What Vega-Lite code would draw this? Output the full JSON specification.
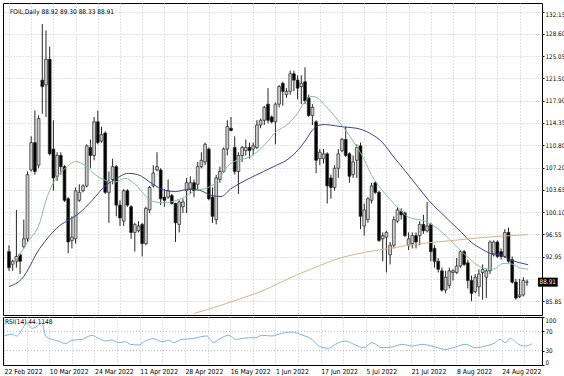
{
 "$schema": "https://vega.github.io/schema/vega-lite/v6.json",
 "background": "#ffffff",
 "padding": {"left": 1, "top": 2, "right": 0, "bottom": 0},
 "spacing": 2,
 "bounds": "flush",
 "config": {
  "view": {"stroke": "#000000", "strokeWidth": 1},
  "axis": {"labelFont": "DejaVu Sans Condensed, Liberation Sans Narrow, Liberation Sans, sans-serif", "labelFontSize": 6.3, "labelColor": "#000000", "gridColor": "#c4c4c4", "gridDash": [1, 2], "gridWidth": 1, "tickColor": "#000000", "domain": false, "labelOverlap": false, "labelFlush": false, "labelBound": false}
 },
 "datasets": {
  "k": [
   {"i":0,"o":93.79,"h":94.81,"l":90.72,"c":91.23},{"i":1,"o":91.74,"h":92.51,"l":90.72,"c":92.25},{"i":2,"o":92.25,"h":100.45,"l":91.23,"c":93.02},{"i":3,"o":93.28,"h":93.53,"l":90.2,"c":92.25},{"i":4,"o":94.56,"h":98.91,"l":94.3,"c":95.84},{"i":5,"o":95.84,"h":106.6,"l":95.33,"c":106.09},{"i":6,"o":106.85,"h":112.23,"l":106.6,"c":111.21},{"i":7,"o":111.21,"h":116.33,"l":106.09,"c":106.6},{"i":8,"o":107.62,"h":115.56,"l":107.11,"c":115.05},{"i":9,"o":121.2,"h":130.16,"l":115.82,"c":120.17},
   {"i":10,"o":120.43,"h":129.14,"l":115.31,"c":124.53},{"i":11,"o":124.53,"h":126.58,"l":109.16,"c":109.42},{"i":12,"o":110.18,"h":114.79,"l":103.52,"c":105.57},{"i":13,"o":105.83,"h":109.67,"l":105.06,"c":109.16},{"i":14,"o":109.16,"h":109.67,"l":106.09,"c":107.37},{"i":15,"o":107.37,"h":107.62,"l":101.73,"c":101.99},{"i":16,"o":102.24,"h":102.5,"l":93.53,"c":95.33},{"i":17,"o":95.58,"h":99.43,"l":94.3,"c":96.1},{"i":18,"o":95.84,"h":104.04,"l":95.07,"c":103.52},{"i":19,"o":101.99,"h":104.55,"l":101.73,"c":103.27},
   {"i":20,"o":103.52,"h":104.55,"l":103.27,"c":104.29},{"i":21,"o":104.29,"h":110.95,"l":104.04,"c":110.7},{"i":22,"o":110.44,"h":111.72,"l":107.11,"c":109.16},{"i":23,"o":109.16,"h":115.31,"l":108.39,"c":114.54},{"i":24,"o":114.54,"h":116.33,"l":110.95,"c":111.21},{"i":25,"o":111.46,"h":113.77,"l":111.21,"c":112.49},{"i":26,"o":112.75,"h":113.0,"l":103.01,"c":103.27},{"i":27,"o":103.27,"h":106.6,"l":98.4,"c":105.06},{"i":28,"o":105.32,"h":108.65,"l":104.55,"c":107.37},{"i":29,"o":107.37,"h":107.62,"l":99.43,"c":101.22},
   {"i":30,"o":101.22,"h":101.99,"l":97.89,"c":99.17},{"i":31,"o":98.66,"h":103.78,"l":97.89,"c":103.52},{"i":32,"o":103.52,"h":103.78,"l":100.96,"c":101.22},{"i":33,"o":100.96,"h":101.22,"l":95.84,"c":96.86},{"i":34,"o":96.86,"h":98.4,"l":93.79,"c":98.14},{"i":35,"o":97.12,"h":98.66,"l":96.86,"c":97.89},{"i":36,"o":98.14,"h":98.4,"l":93.02,"c":95.07},{"i":37,"o":95.07,"h":100.96,"l":94.81,"c":100.71},{"i":38,"o":100.45,"h":104.29,"l":99.94,"c":104.04},{"i":39,"o":104.29,"h":107.62,"l":104.04,"c":106.34},
   {"i":40,"o":106.85,"h":109.67,"l":106.6,"c":107.37},{"i":41,"o":106.85,"h":107.11,"l":101.22,"c":102.24},{"i":42,"o":102.5,"h":103.78,"l":100.96,"c":101.99},{"i":43,"o":102.5,"h":105.32,"l":102.24,"c":103.52},{"i":44,"o":102.76,"h":103.01,"l":101.3,"c":101.48},{"i":45,"o":101.48,"h":101.6,"l":95.33,"c":98.4},{"i":46,"o":98.14,"h":101.99,"l":96.86,"c":101.73},{"i":47,"o":100.96,"h":102.24,"l":99.94,"c":101.73},{"i":48,"o":103.52,"h":105.57,"l":99.94,"c":104.8},{"i":49,"o":103.78,"h":105.83,"l":103.01,"c":104.8},
   {"i":50,"o":104.8,"h":105.32,"l":102.5,"c":103.52},{"i":51,"o":104.55,"h":108.13,"l":103.52,"c":107.37},{"i":52,"o":107.37,"h":109.67,"l":107.11,"c":108.39},{"i":53,"o":108.13,"h":111.21,"l":107.62,"c":110.95},{"i":54,"o":110.18,"h":110.44,"l":101.99,"c":102.24},{"i":55,"o":102.5,"h":104.04,"l":98.4,"c":99.43},{"i":56,"o":98.91,"h":106.09,"l":98.14,"c":105.57},{"i":57,"o":105.32,"h":107.37,"l":104.8,"c":106.6},{"i":58,"o":106.6,"h":110.44,"l":106.34,"c":110.18},{"i":59,"o":110.18,"h":114.79,"l":109.16,"c":113.77},
   {"i":60,"o":113.51,"h":115.31,"l":113.0,"c":113.16},{"i":61,"o":110.44,"h":112.23,"l":106.09,"c":106.6},{"i":62,"o":106.6,"h":109.67,"l":103.01,"c":109.16},{"i":63,"o":109.16,"h":110.7,"l":108.13,"c":110.44},{"i":64,"o":109.93,"h":111.72,"l":109.16,"c":110.44},{"i":65,"o":110.44,"h":111.21,"l":108.65,"c":109.93},{"i":66,"o":110.18,"h":111.21,"l":109.16,"c":110.7},{"i":67,"o":110.44,"h":114.79,"l":110.18,"c":114.03},{"i":68,"o":114.03,"h":115.05,"l":113.51,"c":114.79},{"i":69,"o":114.79,"h":117.1,"l":114.03,"c":116.84},
   {"i":70,"o":117.36,"h":119.92,"l":114.28,"c":114.79},{"i":71,"o":115.31,"h":115.56,"l":114.28,"c":114.54},{"i":72,"o":114.54,"h":117.61,"l":110.95,"c":117.36},{"i":73,"o":117.36,"h":120.43,"l":116.84,"c":120.17},{"i":74,"o":120.69,"h":120.94,"l":117.1,"c":119.41},{"i":75,"o":118.89,"h":119.92,"l":118.38,"c":119.41},{"i":76,"o":119.41,"h":122.74,"l":118.89,"c":122.22},{"i":77,"o":122.22,"h":122.74,"l":119.41,"c":121.2},{"i":78,"o":121.2,"h":121.97,"l":118.13,"c":119.92},{"i":79,"o":120.17,"h":121.97,"l":117.36,"c":120.69},
   {"i":80,"o":120.94,"h":123.25,"l":117.36,"c":117.87},{"i":81,"o":118.38,"h":118.89,"l":115.31,"c":115.56},{"i":82,"o":115.56,"h":117.36,"l":114.03,"c":116.84},{"i":83,"o":114.54,"h":114.79,"l":106.34,"c":108.39},{"i":84,"o":108.65,"h":110.18,"l":107.62,"c":109.67},{"i":85,"o":108.65,"h":110.18,"l":107.87,"c":109.42},{"i":86,"o":109.42,"h":109.67,"l":101.48,"c":104.29},{"i":87,"o":105.57,"h":106.09,"l":102.24,"c":104.04},{"i":88,"o":104.04,"h":107.62,"l":103.52,"c":107.11},{"i":89,"o":107.11,"h":110.18,"l":105.57,"c":109.42},
   {"i":90,"o":109.93,"h":111.98,"l":109.67,"c":111.72},{"i":91,"o":111.72,"h":113.77,"l":108.9,"c":109.16},{"i":92,"o":109.42,"h":109.67,"l":104.8,"c":105.83},{"i":93,"o":106.09,"h":109.16,"l":105.57,"c":108.13},{"i":94,"o":108.39,"h":110.95,"l":105.57,"c":110.44},{"i":95,"o":110.7,"h":111.21,"l":97.38,"c":99.43},{"i":96,"o":97.89,"h":101.48,"l":96.35,"c":100.45},{"i":97,"o":98.91,"h":102.5,"l":98.4,"c":102.24},{"i":98,"o":101.99,"h":104.8,"l":101.48,"c":104.29},{"i":99,"o":104.8,"h":105.06,"l":103.01,"c":103.27},
   {"i":100,"o":103.27,"h":103.52,"l":95.33,"c":95.58},{"i":101,"o":95.84,"h":96.86,"l":92.25,"c":96.35},{"i":102,"o":96.1,"h":97.12,"l":90.46,"c":96.86},{"i":103,"o":93.28,"h":95.33,"l":91.74,"c":94.81},{"i":104,"o":94.81,"h":99.43,"l":94.3,"c":98.91},{"i":105,"o":98.66,"h":100.96,"l":98.4,"c":100.45},{"i":106,"o":100.19,"h":100.71,"l":98.91,"c":99.68},{"i":107,"o":99.94,"h":100.19,"l":96.1,"c":96.35},{"i":108,"o":94.81,"h":96.86,"l":94.05,"c":95.84},{"i":109,"o":95.07,"h":96.86,"l":94.3,"c":96.35},
   {"i":110,"o":96.35,"h":96.86,"l":94.3,"c":95.33},{"i":111,"o":96.35,"h":98.66,"l":94.81,"c":98.14},{"i":112,"o":98.14,"h":99.68,"l":96.61,"c":97.12},{"i":113,"o":97.12,"h":101.73,"l":96.86,"c":97.89},{"i":114,"o":98.14,"h":98.4,"l":92.25,"c":93.79},{"i":115,"o":94.3,"h":94.81,"l":91.23,"c":92.25},{"i":116,"o":92.25,"h":92.77,"l":90.46,"c":90.97},{"i":117,"o":90.72,"h":91.23,"l":87.39,"c":87.64},{"i":118,"o":87.64,"h":90.72,"l":87.13,"c":89.69},{"i":119,"o":88.41,"h":91.23,"l":87.9,"c":90.72},
   {"i":120,"o":90.46,"h":90.97,"l":89.18,"c":90.72},{"i":121,"o":90.46,"h":92.77,"l":90.2,"c":91.49},{"i":122,"o":91.49,"h":94.05,"l":91.23,"c":93.79},{"i":123,"o":93.79,"h":94.05,"l":91.49,"c":91.74},{"i":124,"o":92.0,"h":92.51,"l":87.9,"c":89.18},{"i":125,"o":89.18,"h":89.95,"l":85.85,"c":87.13},{"i":126,"o":87.39,"h":90.2,"l":87.13,"c":89.69},{"i":127,"o":88.16,"h":90.97,"l":86.62,"c":90.2},{"i":128,"o":90.46,"h":91.74,"l":86.11,"c":90.97},{"i":129,"o":89.69,"h":90.97,"l":86.36,"c":90.72},
   {"i":130,"o":90.72,"h":95.58,"l":90.2,"c":95.33},{"i":131,"o":93.28,"h":95.58,"l":93.02,"c":95.33},{"i":132,"o":95.33,"h":95.58,"l":92.77,"c":93.02},{"i":133,"o":93.79,"h":94.3,"l":92.51,"c":93.02},{"i":134,"o":93.02,"h":97.38,"l":92.77,"c":96.86},{"i":135,"o":96.86,"h":97.63,"l":92.0,"c":92.25},{"i":136,"o":92.51,"h":93.02,"l":88.67,"c":88.92},{"i":137,"o":88.92,"h":89.44,"l":86.11,"c":86.36},{"i":138,"o":86.62,"h":89.44,"l":86.36,"c":86.87},{"i":139,"o":86.87,"h":89.69,"l":86.62,"c":89.18},
   {"i":140,"o":88.92,"h":89.3,"l":88.33,"c":88.91}
  ],
  "m": [
   {"s":"b","i":0,"v":88.2},{"s":"b","i":3.4,"v":89.4},{"s":"b","i":8.3,"v":94.3},{"s":"b","i":11,"v":96.35},{"s":"b","i":13.6,"v":97.9},{"s":"b","i":16.3,"v":98.9},{"s":"b","i":18.9,"v":99.9},{"s":"b","i":22.5,"v":102.0},{"s":"b","i":26,"v":104.3},{"s":"b","i":28.6,"v":105.3},{"s":"b","i":32.2,"v":106.3},{"s":"b","i":34.8,"v":106.1},{"s":"b","i":38.8,"v":104.6},{"s":"b","i":42,"v":103.6},{"s":"b","i":45,"v":103.4},{"s":"b","i":49,"v":103.8},{"s":"b","i":52,"v":103.5},{"s":"b","i":54.6,"v":102.8},{"s":"b","i":57.3,"v":102.6},{"s":"b","i":59.9,"v":103.8},{"s":"b","i":64.3,"v":105.3},{"s":"b","i":68.8,"v":106.6},{"s":"b","i":72.3,"v":107.6},{"s":"b","i":75,"v":108.4},{"s":"b","i":77.6,"v":109.7},{"s":"b","i":80.3,"v":111.7},{"s":"b","i":82,"v":113.2},{"s":"b","i":83.8,"v":114.0},{"s":"b","i":85.5,"v":114.1},{"s":"b","i":88.2,"v":113.9},{"s":"b","i":90.8,"v":113.7},{"s":"b","i":94,"v":113.5},{"s":"b","i":97.4,"v":112.75},{"s":"b","i":101,"v":111.2},{"s":"b","i":103.6,"v":109.2},{"s":"b","i":107.2,"v":106.6},{"s":"b","i":110.7,"v":104.0},{"s":"b","i":113.4,"v":102.0},{"s":"b","i":116,"v":100.45},{"s":"b","i":118.7,"v":98.9},{"s":"b","i":122.2,"v":96.9},{"s":"b","i":124.9,"v":95.3},{"s":"b","i":127.5,"v":94.3},{"s":"b","i":130.2,"v":93.5},{"s":"b","i":132.8,"v":93.3},{"s":"b","i":135.4,"v":92.5},{"s":"b","i":138.1,"v":92.0},{"s":"b","i":140.3,"v":91.7},
   {"s":"g","i":1,"v":91.5},{"s":"g","i":5,"v":95.3},{"s":"g","i":8.3,"v":98.4},{"s":"g","i":10,"v":102.0},{"s":"g","i":12.7,"v":105.5},{"s":"g","i":15.4,"v":107.2},{"s":"g","i":18,"v":108.2},{"s":"g","i":20.7,"v":107.5},{"s":"g","i":23.3,"v":106.1},{"s":"g","i":26,"v":105.2},{"s":"g","i":28.6,"v":104.9},{"s":"g","i":31.3,"v":105.5},{"s":"g","i":34,"v":104.6},{"s":"g","i":36.6,"v":102.9},{"s":"g","i":38.4,"v":101.9},{"s":"g","i":41.9,"v":101.6},{"s":"g","i":45.4,"v":102.0},{"s":"g","i":47.5,"v":102.5},{"s":"g","i":50.2,"v":103.5},{"s":"g","i":53.7,"v":104.0},{"s":"g","i":56.4,"v":105.1},{"s":"g","i":59,"v":107.4},{"s":"g","i":61.7,"v":108.4},{"s":"g","i":64.3,"v":108.75},{"s":"g","i":67,"v":109.7},{"s":"g","i":69.6,"v":111.2},{"s":"g","i":72.3,"v":113.0},{"s":"g","i":75,"v":114.0},{"s":"g","i":77.6,"v":115.6},{"s":"g","i":79.8,"v":117.6},{"s":"g","i":81.6,"v":118.6},{"s":"g","i":82.9,"v":118.5},{"s":"g","i":85.5,"v":117.1},{"s":"g","i":88.2,"v":115.3},{"s":"g","i":90.8,"v":113.3},{"s":"g","i":93.5,"v":111.0},{"s":"g","i":96,"v":108.5},{"s":"g","i":98,"v":106.0},{"s":"g","i":101,"v":103.5},{"s":"g","i":104.8,"v":101.0},{"s":"g","i":108,"v":99.3},{"s":"g","i":112.7,"v":98.6},{"s":"g","i":116,"v":97.4},{"s":"g","i":119,"v":95.8},{"s":"g","i":122,"v":94.0},{"s":"g","i":125,"v":92.4},{"s":"g","i":128,"v":91.2},{"s":"g","i":131,"v":91.0},{"s":"g","i":133.5,"v":91.9},{"s":"g","i":136,"v":91.8},{"s":"g","i":138,"v":91.2},{"s":"g","i":140.3,"v":91.0},
   {"s":"t","i":50,"v":83.9},{"s":"t","i":53.3,"v":84.47},{"s":"t","i":60.5,"v":85.85},{"s":"t","i":69.2,"v":87.7},{"s":"t","i":76.4,"v":89.7},{"s":"t","i":82.5,"v":91.2},{"s":"t","i":89.7,"v":92.8},{"s":"t","i":93.9,"v":93.4},{"s":"t","i":102.7,"v":94.3},{"s":"t","i":111.7,"v":95.1},{"s":"t","i":120.4,"v":95.6},{"s":"t","i":129.2,"v":96.1},{"s":"t","i":140.3,"v":96.5}
  ],
  "r": [
   {"i":0,"r":60.5},{"i":2.1,"r":64},{"i":3.4,"r":60.5},{"i":4.8,"r":74.5},{"i":6.1,"r":88.2},{"i":7.4,"r":76.3},{"i":9.2,"r":83.3},{"i":10.1,"r":88.2},{"i":11,"r":60.5},{"i":12.7,"r":53.5},{"i":14.5,"r":50},{"i":16.3,"r":44.4},{"i":18,"r":51.4},{"i":20.7,"r":53.5},{"i":22,"r":58.3},{"i":23.3,"r":61.8},{"i":25.1,"r":55.5},{"i":26.9,"r":50},{"i":28.6,"r":52.1},{"i":30.4,"r":46.5},{"i":32.2,"r":48.6},{"i":33.5,"r":43},{"i":35.7,"r":41.7},{"i":37.5,"r":50},{"i":39.7,"r":54.9},{"i":41.9,"r":48.6},{"i":43.7,"r":51.4},{"i":45,"r":46.5},{"i":47.2,"r":53.5},{"i":49.9,"r":54.9},{"i":53.8,"r":60.5},{"i":55.6,"r":46.5},{"i":57,"r":53.5},{"i":59.6,"r":61.8},{"i":61.4,"r":53.5},{"i":64.9,"r":56.9},{"i":66.7,"r":56.9},{"i":68.4,"r":61.8},{"i":71.1,"r":60.5},{"i":73.7,"r":66},{"i":76.4,"r":68.7},{"i":79,"r":62.5},{"i":81.7,"r":53.5},{"i":83.5,"r":39.5},{"i":86.1,"r":34.7},{"i":87.9,"r":43},{"i":90.5,"r":50},{"i":93.2,"r":41.7},{"i":95.4,"r":36},{"i":97.6,"r":46.5},{"i":100.3,"r":36},{"i":102.9,"r":37.5},{"i":105.6,"r":43},{"i":108.2,"r":39.5},{"i":110.9,"r":43},{"i":114.4,"r":37.5},{"i":117.1,"r":32.5},{"i":119.7,"r":37.5},{"i":122.4,"r":43},{"i":125,"r":36},{"i":127.7,"r":39.5},{"i":130.3,"r":46.5},{"i":131.6,"r":53.5},{"i":133,"r":46.5},{"i":134.3,"r":55.5},{"i":136.5,"r":43},{"i":138.3,"r":39.5},{"i":140,"r":44.11}
  ]
 },
 "vconcat": [
  {
   "width": 539,
   "height": 312,
   "layer": [
    {
     "data": {"name": "k"},
     "mark": {"type": "rule", "color": "#262626", "strokeWidth": 1},
     "encoding": {
      "x": {"field": "i", "type": "quantitative", "scale": {"domain": [-0.27, 142.7], "nice": false, "zero": false}, "axis": {"values": [0,6,12,18,24,30,36,42,48,54,60,66,72,78,84,90,96,102,108,114,120,126,132,138], "tickCount": 200, "grid": true, "labels": false, "ticks": false, "title": null}},
      "y": {"field": "l", "type": "quantitative", "scale": {"domain": [84.46, 132.73], "nice": false, "zero": false}, "axis": {"orient": "right", "values": [85.85,89.4,92.95,96.55,100.1,103.65,107.2,110.8,114.35,117.9,121.5,125.05,128.6,132.15], "tickCount": 200, "grid": true, "title": null, "tickSize": 2, "labelPadding": 1, "labelOverlap": false, "labelBound": false, "labelExpr": "datum.value == 89.4 ? '' : format(datum.value, '.2f')", "labelBaseline": {"condition": {"test": "datum.value > 132", "value": "top"}, "value": "middle"}}},
      "y2": {"field": "h"}
     }
    },
    {
     "data": {"name": "k"},
     "mark": {"type": "bar", "width": 2.8, "stroke": "#262626", "strokeWidth": 0.7},
     "encoding": {
      "x": {"field": "i", "type": "quantitative", "scale": {"domain": [-0.27, 142.7], "nice": false, "zero": false}, "axis": {"values": [0,6,12,18,24,30,36,42,48,54,60,66,72,78,84,90,96,102,108,114,120,126,132,138], "tickCount": 200, "grid": true, "labels": false, "ticks": false, "title": null}},
      "y": {"field": "o", "type": "quantitative", "scale": {"domain": [84.46, 132.73], "nice": false, "zero": false}, "axis": {"orient": "right", "values": [85.85,89.4,92.95,96.55,100.1,103.65,107.2,110.8,114.35,117.9,121.5,125.05,128.6,132.15], "tickCount": 200, "grid": true, "title": null, "tickSize": 2, "labelPadding": 1, "labelOverlap": false, "labelBound": false, "labelExpr": "datum.value == 89.4 ? '' : format(datum.value, '.2f')", "labelBaseline": {"condition": {"test": "datum.value > 132", "value": "top"}, "value": "middle"}}},
      "y2": {"field": "c"},
      "fill": {"condition": {"test": "datum.c >= datum.o", "value": "#cccccc"}, "value": "#000000"}
     }
    },
    {
     "data": {"name": "m"},
     "mark": {"type": "line", "strokeWidth": 1, "clip": true, "interpolate": "monotone"},
     "encoding": {
      "x": {"field": "i", "type": "quantitative", "scale": {"domain": [-0.27, 142.7], "nice": false, "zero": false}, "axis": {"values": [0,6,12,18,24,30,36,42,48,54,60,66,72,78,84,90,96,102,108,114,120,126,132,138], "tickCount": 200, "grid": true, "labels": false, "ticks": false, "title": null}},
      "y": {"field": "v", "type": "quantitative", "scale": {"domain": [84.46, 132.73], "nice": false, "zero": false}, "axis": {"orient": "right", "values": [85.85,89.4,92.95,96.55,100.1,103.65,107.2,110.8,114.35,117.9,121.5,125.05,128.6,132.15], "tickCount": 200, "grid": true, "title": null, "tickSize": 2, "labelPadding": 1, "labelOverlap": false, "labelBound": false, "labelExpr": "datum.value == 89.4 ? '' : format(datum.value, '.2f')", "labelBaseline": {"condition": {"test": "datum.value > 132", "value": "top"}, "value": "middle"}}},
      "color": {"field": "s", "type": "nominal", "scale": {"domain": ["t", "b", "g"], "range": ["#d9b38c", "#40408f", "#86bd98"]}, "legend": null}
     }
    },
    {
     "data": {"values": [{"t": "FOIL,Daily  88.92 89.30 88.33 88.91"}]},
     "mark": {"type": "text", "align": "left", "baseline": "top", "dx": 2, "dy": 1, "fontSize": 6.5, "font": "DejaVu Sans Condensed, Liberation Sans Narrow, Liberation Sans, sans-serif", "color": "#000000"},
     "encoding": {
      "x": {"datum": -0.27, "type": "quantitative"},
      "y": {"datum": 132.73, "type": "quantitative"},
      "text": {"field": "t"}
     }
    },
    {
     "data": {"values": [{"p": 88.91, "t": "88.91"}]},
     "mark": {"type": "bar", "height": 9, "color": "#000000"},
     "encoding": {
      "x": {"datum": 142.97, "type": "quantitative"},
      "x2": {"datum": 148.3},
      "y": {"field": "p", "type": "quantitative"}
     }
    },
    {
     "data": {"values": [{"p": 88.91, "t": "88.91"}]},
     "mark": {"type": "text", "align": "center", "baseline": "middle", "fontSize": 6.3, "font": "DejaVu Sans Condensed, Liberation Sans Narrow, Liberation Sans, sans-serif", "color": "#ffffff"},
     "encoding": {
      "x": {"datum": 145.6, "type": "quantitative"},
      "y": {"field": "p", "type": "quantitative"},
      "text": {"field": "t"}
     }
    }
   ]
  },
  {
   "width": 539,
   "height": 48,
   "layer": [
    {
     "data": {"values": [{"lv": 30}, {"lv": 70}]},
     "mark": {"type": "rule", "color": "#b8b8b8", "strokeDash": [1, 2], "strokeWidth": 1},
     "encoding": {
      "y": {"field": "lv", "type": "quantitative", "scale": {"domain": [0, 100], "nice": false, "zero": false}, "axis": {"orient": "right", "values": [0, 30, 70, 100], "tickCount": 200, "format": "d", "grid": false, "title": null, "tickSize": 2, "labelPadding": 1, "labelOverlap": false, "labelBound": false, "labelBaseline": {"condition": [{"test": "datum.value == 100", "value": "top"}, {"test": "datum.value == 0", "value": "bottom"}], "value": "middle"}}}
     }
    },
    {
     "data": {"name": "r"},
     "mark": {"type": "line", "color": "#7fb2dd", "strokeWidth": 1, "interpolate": "monotone"},
     "encoding": {
      "x": {"field": "i", "type": "quantitative", "scale": {"domain": [-0.27, 142.7], "nice": false, "zero": false}, "axis": {"values": [0,6,12,18,24,30,36,42,48,54,60,66,72,78,84,90,96,102,108,114,120,126,132,138], "tickCount": 200, "grid": true, "ticks": false, "title": null, "labelAlign": "left", "labelPadding": 3, "labelFontSize": 6.8, "labelOverlap": false, "labelFlush": false, "labelExpr": "datum.value % 12 == 0 ? ['22 Feb 2022','10 Mar 2022','24 Mar 2022','11 Apr 2022','28 Apr 2022','16 May 2022','1 Jun 2022','17 Jun 2022','5 Jul 2022','21 Jul 2022','8 Aug 2022','24 Aug 2022'][datum.value / 12] : ''"}},
      "y": {"field": "r", "type": "quantitative", "scale": {"domain": [0, 100], "nice": false, "zero": false}, "axis": {"orient": "right", "values": [0, 30, 70, 100], "tickCount": 200, "format": "d", "grid": false, "title": null, "tickSize": 2, "labelPadding": 1, "labelOverlap": false, "labelBound": false, "labelBaseline": {"condition": [{"test": "datum.value == 100", "value": "top"}, {"test": "datum.value == 0", "value": "bottom"}], "value": "middle"}}}
     }
    },
    {
     "data": {"values": [{"t": "RSI(14) 44.1148"}]},
     "mark": {"type": "text", "align": "left", "baseline": "top", "dx": 2, "dy": 2, "fontSize": 6.5, "font": "DejaVu Sans Condensed, Liberation Sans Narrow, Liberation Sans, sans-serif", "color": "#000000"},
     "encoding": {
      "x": {"datum": -0.27, "type": "quantitative"},
      "y": {"datum": 100, "type": "quantitative"},
      "text": {"field": "t"}
     }
    }
   ]
  }
 ]
}
